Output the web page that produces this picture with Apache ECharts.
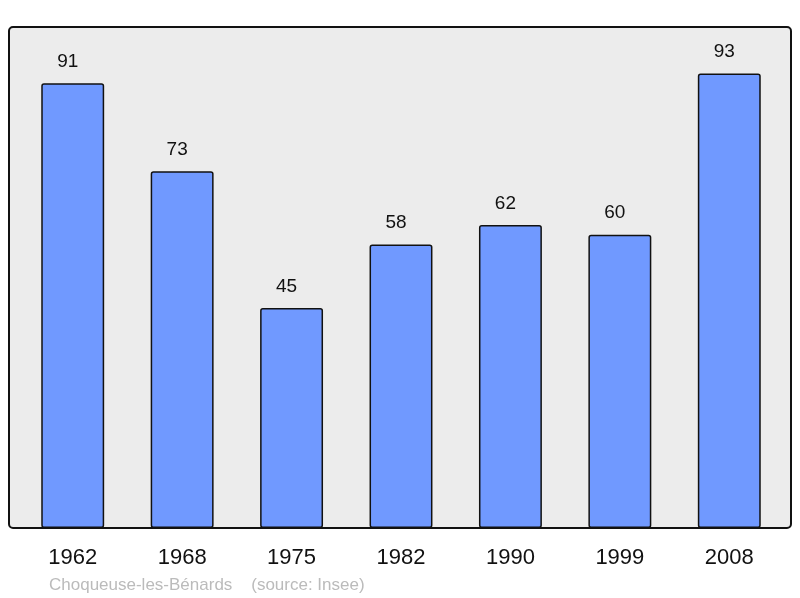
<!DOCTYPE html>
<html>
<head>
<meta charset="utf-8">
<script src="https://cdn.jsdelivr.net/npm/echarts@6/dist/echarts.min.js"></script>
<style>
  html, body { margin: 0; padding: 0; background: #fff; }
  #main { width: 800px; height: 598px; }
</style>
</head>
<body>
<div id="main"></div>
<script>
// recensements
var years = ['1962', '1968', '1975', '1982', '1990', '1999', '2008']
var population = [91, 73, 45, 58, 62, 60, 93]
var footer = 'Choqueuse-les-Bénards    (source: Insee)'

var myChart = echarts.init(document.getElementById('main'))

var option = {
  animation: false,
  backgroundColor: '#fff',
  textStyle: { fontFamily: 'Liberation Sans, Arial, sans-serif' },
  title: {
    text: footer,
    left: 44,
    top: 572,
    textStyle: { color: '#bbbbbb', fontSize: 17, fontWeight: 'normal' }
  },
  // cadre gris avec coins arrondis
  graphic: [
    {
      type: 'rect', z: 0, silent: true,
      shape: { x: 9, y: 27, width: 782, height: 501, r: 4 },
      style: { fill: '#ececec' }
    },
    {
      type: 'rect', z: 100, silent: true,
      shape: { x: 9, y: 27, width: 782, height: 501, r: 4 },
      style: { fill: null, stroke: '#111', lineWidth: 2 }
    }
  ],
  grid: { left: 18, right: 16, top: 27, bottom: 70 },
  xAxis: {
    type: 'category',
    data: years,
    axisLine: { show: false },
    axisTick: { show: false },
    axisLabel: { fontSize: 22, color: '#111', margin: 19 }
  },
  yAxis: {
    type: 'value',
    min: 0,
    max: 102.5,
    show: false,
    splitLine: { show: false }
  },
  series: [
    {
      type: 'bar',
      data: population,
      barWidth: '57.5%',
      z: 5,
      itemStyle: {
        color: '#7099ff',
        borderColor: '#111',
        borderWidth: 1.5,
        borderRadius: 2
      },
      label: {
        show: true,
        position: 'top',
        distance: 12,
        offset: [-5, 0],
        fontSize: 19,
        color: '#111'
      }
    }
  ]
}

myChart.setOption(option)
</script>
</body>
</html>
